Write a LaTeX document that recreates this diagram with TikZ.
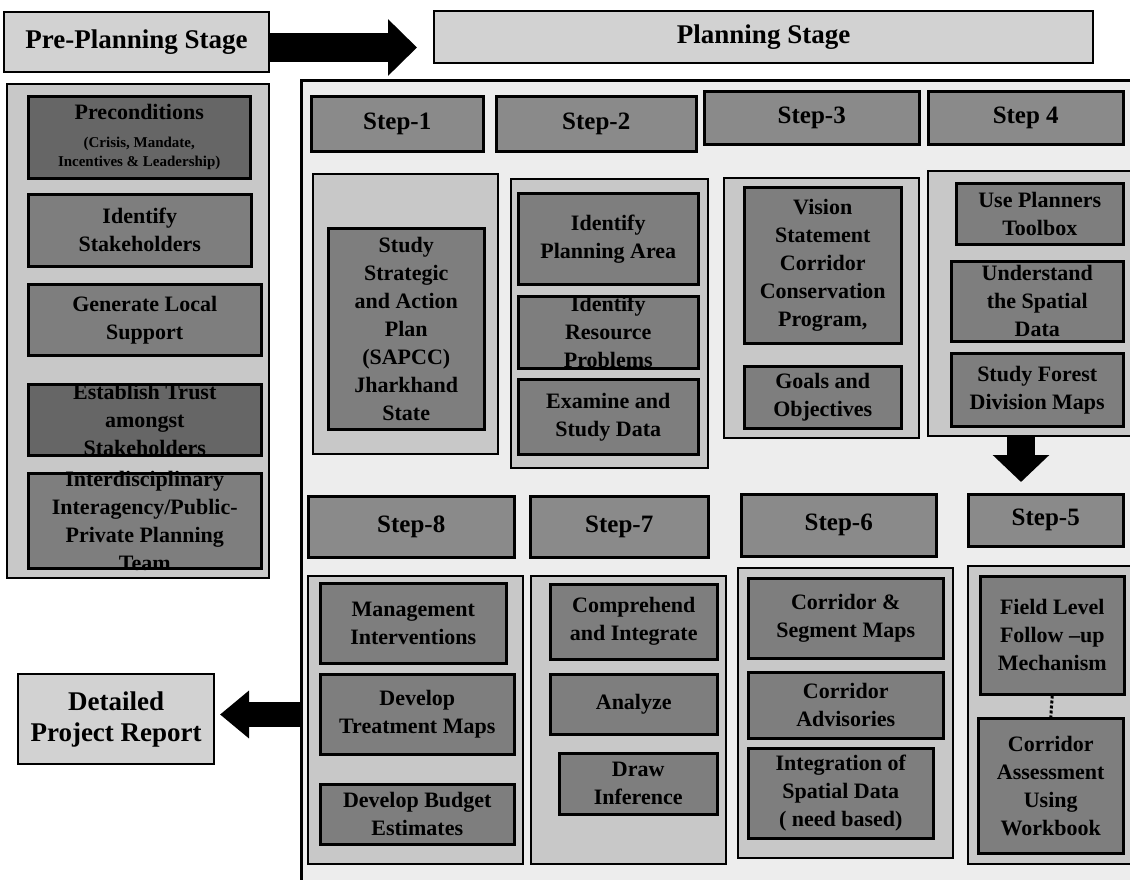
\documentclass[tikz,border=0pt]{standalone}
\usepackage{fontspec}
\setmainfont{Liberation Serif}
\usetikzlibrary{arrows.meta}
\definecolor{stepgray}{HTML}{8A8A8A}
\definecolor{innergray}{HTML}{7E7E7E}
\definecolor{darkgray2}{HTML}{666666}
\definecolor{panelgray}{HTML}{C8C8C8}
\definecolor{titlegray}{HTML}{D2D2D2}
\definecolor{framebg}{HTML}{EDEDED}
\tikzset{
  txt/.style={font=\fontsize{22}{28}\selectfont\bfseries, align=center, inner sep=0pt, text=black},
  stepbox/.style={draw=black, line width=2.5pt, fill=stepgray, inner sep=0pt},
  inbox/.style={draw=black, line width=2.5pt, fill=innergray, inner sep=0pt},
  darkbox/.style={draw=black, line width=2.5pt, fill=darkgray2, inner sep=0pt},
  panel/.style={draw=black, line width=2.2pt, fill=panelgray, inner sep=0pt},
  titlebox/.style={draw=black, line width=2.2pt, fill=titlegray, inner sep=0pt},
  stepfont/.style={font=\fontsize{25}{30}\selectfont\bfseries},
  titlefont/.style={font=\fontsize{27}{31}\selectfont\bfseries},
  blockarrow/.style={draw=black, line cap=butt}
}
\newcommand{\bx}[7]{%
  \node[#2, anchor=north west, minimum width={(#5)-(#3)}, minimum height={(#6)-(#4)}] (#1) at (#3,#4) {};
  \node[txt] (#1-t) at (#1.center) {#7};}
\newcommand{\bs}[7]{%
  \node[#2, anchor=north west, minimum width={(#5)-(#3)}, minimum height={(#6)-(#4)}] (#1) at (#3,#4) {};
  \node[txt, stepfont] (#1-t) at (#1.center) {#7};}
\begin{document}
\begin{tikzpicture}[x=1pt,y=-1pt]
\useasboundingbox (0,0) rectangle (1130,879);
\fill[white] (0,0) rectangle (1130,879);

% planning frame
\fill[framebg] (301,80) rectangle (1135,885);
\draw[line width=3pt] (1135,80) -- (301,80) -- (301,885);

% titles
\node[titlebox, anchor=north west, minimum width=265, minimum height=60] (pre) at (3,11) {};
\node[txt, titlefont] (pre-t) at (pre.center) {Pre-Planning Stage};
\node[titlebox, anchor=north west, minimum width=659, minimum height=52] (plan) at (433,10) {};
\node[txt, titlefont] (plan-t) at (plan.center) {Planning Stage};
\node[titlebox, anchor=north west, minimum width=196, minimum height=90] (dpr) at (17,673) {};
\node[txt, titlefont] (dpr-t) at (dpr.center) {Detailed\\Project Report};

% left column
\bx{left}{panel}{6}{83}{268}{577}{}
\node[darkbox, anchor=north west, minimum width=222, minimum height=82] (prec) at (27,95) {};
\node[txt] (prec-t) at (prec.center) {Preconditions\\[0pt]{\fontsize{15}{18}\selectfont (Crisis, Mandate,}\\[-9pt]{\fontsize{15}{18}\selectfont Incentives \& Leadership)}};
\bx{stake}{inbox}{27}{193}{250}{265}{Identify\\Stakeholders}
\bx{gen}{inbox}{27}{283}{260}{354}{Generate Local\\Support}
\bx{trust}{darkbox}{27}{383}{260}{454}{Establish Trust\\amongst\\Stakeholders}
\bx{inter}{inbox}{27}{472}{260}{567}{Interdisciplinary\\Interagency/Public-\\Private Planning\\Team}

% step headers top row
\bs{s1}{stepbox}{310}{95}{482}{150}{Step-1}
\bs{s2}{stepbox}{495}{95}{695}{150}{Step-2}
\bs{s3}{stepbox}{703}{90}{918}{143}{Step-3}
\bs{s4}{stepbox}{927}{90}{1122}{143}{Step 4}

% step 1
\bx{p1}{panel}{312}{173}{497}{453}{}
\bx{sapcc}{inbox}{327}{227}{483}{428}{Study\\Strategic\\and Action\\Plan\\(SAPCC)\\Jharkhand\\State}
% step 2
\bx{p2}{panel}{510}{178}{707}{467}{}
\bx{area}{inbox}{517}{192}{697}{283}{Identify\\Planning Area}
\bx{res}{inbox}{517}{295}{697}{367}{Identify\\Resource\\Problems}
\bx{exam}{inbox}{517}{378}{697}{453}{Examine and\\Study Data}
% step 3
\bx{p3}{panel}{723}{177}{918}{437}{}
\bx{vision}{inbox}{743}{186}{900}{342}{Vision\\Statement\\Corridor\\Conservation\\Program,}
\bx{goals}{inbox}{743}{365}{900}{427}{Goals and\\Objectives}
% step 4
\bx{p4}{panel}{927}{170}{1140}{435}{}
\bx{tool}{inbox}{955}{182}{1122}{243}{Use Planners\\Toolbox}
\bx{und}{inbox}{950}{260}{1122}{340}{Understand\\the Spatial\\Data}
\bx{forest}{inbox}{950}{352}{1122}{425}{Study Forest\\Division Maps}

% step headers bottom row
\bs{s8}{stepbox}{307}{495}{513}{556}{Step-8}
\bs{s7}{stepbox}{529}{495}{707}{556}{Step-7}
\bs{s6}{stepbox}{740}{493}{935}{555}{Step-6}
\bs{s5}{stepbox}{967}{493}{1122}{545}{Step-5}

% step 8
\bx{p8}{panel}{307}{575}{522}{863}{}
\bx{mgmt}{inbox}{319}{582}{505}{662}{Management\\Interventions}
\bx{treat}{inbox}{319}{673}{513}{753}{Develop\\Treatment Maps}
\bx{budget}{inbox}{319}{783}{513}{843}{Develop Budget\\Estimates}
% step 7
\bx{p7}{panel}{530}{575}{725}{863}{}
\bx{comp}{inbox}{549}{583}{716}{658}{Comprehend\\and Integrate}
\bx{anal}{inbox}{549}{673}{716}{733}{Analyze}
\bx{draw}{inbox}{558}{752}{716}{813}{Draw\\Inference}
% step 6
\bx{p6}{panel}{737}{567}{952}{857}{}
\bx{seg}{inbox}{747}{577}{942}{657}{Corridor \&\\Segment Maps}
\bx{adv}{inbox}{747}{671}{942}{737}{Corridor\\Advisories}
\bx{integ}{inbox}{747}{747}{932}{837}{Integration of\\Spatial Data\\( need based)}
% step 5
\bx{p5}{panel}{967}{565}{1140}{863}{}
\bx{field}{inbox}{979}{575}{1123}{693}{Field Level\\Follow –up\\Mechanism}
\bx{assess}{inbox}{977}{717}{1122}{852}{Corridor\\Assessment\\Using\\Workbook}

% connectors
\coordinate (a1e) at (417,47.5);
\draw[blockarrow, line width=29pt, -{Triangle[length=29pt,width=55pt]}] (pre.east |- a1e) -- (a1e);
\coordinate (a2e) at (1021,482);
\draw[blockarrow, line width=28pt, -{Triangle[length=27pt,width=55pt]}] (p4.south -| a2e) -- (a2e);
\coordinate (a3s) at (301,714.5);
\coordinate (a3e) at (220,714.5);
\draw[blockarrow, line width=25pt, -{Triangle[length=29pt,width=46pt]}] (a3s) -- (a3e);
\draw[line width=3pt, dotted] (field.south) -- (assess.north);
\end{tikzpicture}
\end{document}
